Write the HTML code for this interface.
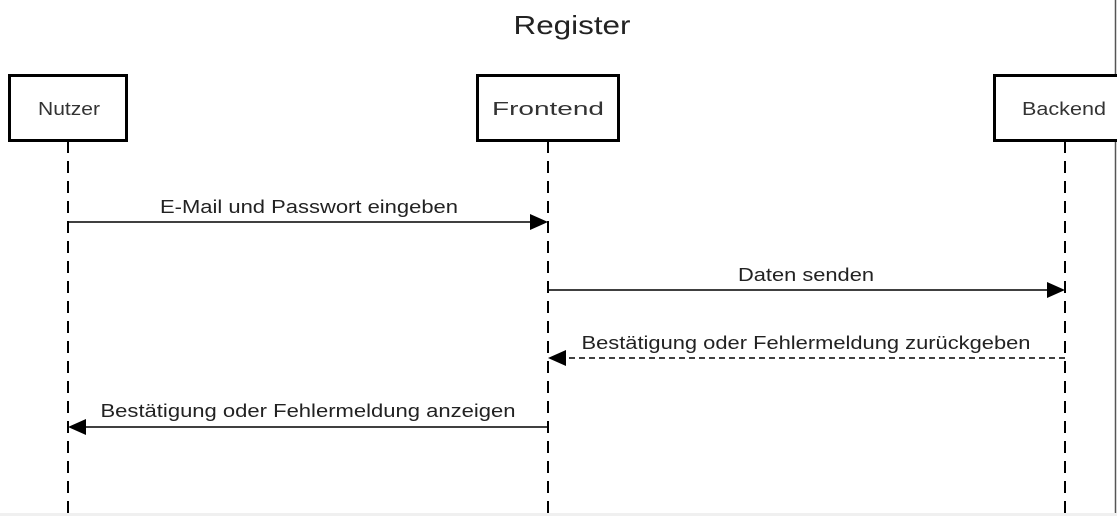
<!DOCTYPE html>
<html><head><style>
html,body{margin:0;padding:0;background:#fff;}
svg{display:block;font-family:"Liberation Sans",Arial,sans-serif;}
</style></head><body>
<svg width="1117" height="516" viewBox="0 0 1117 516">
<rect x="0" y="0" width="1117" height="516" fill="#fff"/>
<rect x="0" y="513" width="1117" height="3" fill="#f0f0f0"/>
<line x1="1115.5" y1="0" x2="1115.5" y2="513" stroke="#555" stroke-width="1.5"/>
<text x="572" y="34" font-size="26" text-anchor="middle" fill="#222" textLength="117" lengthAdjust="spacingAndGlyphs">Register</text>
<g stroke="#000" stroke-width="2" stroke-dasharray="12,8" fill="none">
<line x1="68" y1="141" x2="68" y2="513"/>
<line x1="548" y1="141" x2="548" y2="513"/>
<line x1="1065" y1="141" x2="1065" y2="513"/>
</g>
<g fill="#fff" stroke="#000" stroke-width="3">
<rect x="9.5" y="75.5" width="117" height="65"/>
<rect x="477.5" y="75.5" width="141" height="65"/>
<rect x="994.5" y="75.5" width="141" height="65"/>
</g>
<g font-size="18" fill="#333" text-anchor="middle" lengthAdjust="spacingAndGlyphs">
<text x="69" y="115" textLength="62" lengthAdjust="spacingAndGlyphs">Nutzer</text>
<text x="548" y="115" textLength="112" lengthAdjust="spacingAndGlyphs">Frontend</text>
<text x="1064" y="115" textLength="84" lengthAdjust="spacingAndGlyphs">Backend</text>
</g>
<g stroke="#000" stroke-width="1.5">
<line x1="68" y1="222" x2="530" y2="222"/>
<line x1="548" y1="290" x2="1047" y2="290"/>
<line x1="1065" y1="358" x2="566" y2="358" stroke-dasharray="6,4"/>
<line x1="548" y1="427" x2="86" y2="427"/>
</g>
<g fill="#000">
<polygon points="548,222 530,214 530,230"/>
<polygon points="1065,290 1047,282 1047,298"/>
<polygon points="548,358 566,350 566,366"/>
<polygon points="68,427 86,419 86,435"/>
</g>
<g font-size="18" fill="#222" text-anchor="middle">
<text x="309" y="213" textLength="298" lengthAdjust="spacingAndGlyphs">E-Mail und Passwort eingeben</text>
<text x="806" y="281" textLength="136" lengthAdjust="spacingAndGlyphs">Daten senden</text>
<text x="806" y="349" textLength="449" lengthAdjust="spacingAndGlyphs">Bestätigung oder Fehlermeldung zurückgeben</text>
<text x="308" y="417" textLength="415" lengthAdjust="spacingAndGlyphs">Bestätigung oder Fehlermeldung anzeigen</text>
</g>
</svg>
</body></html>
